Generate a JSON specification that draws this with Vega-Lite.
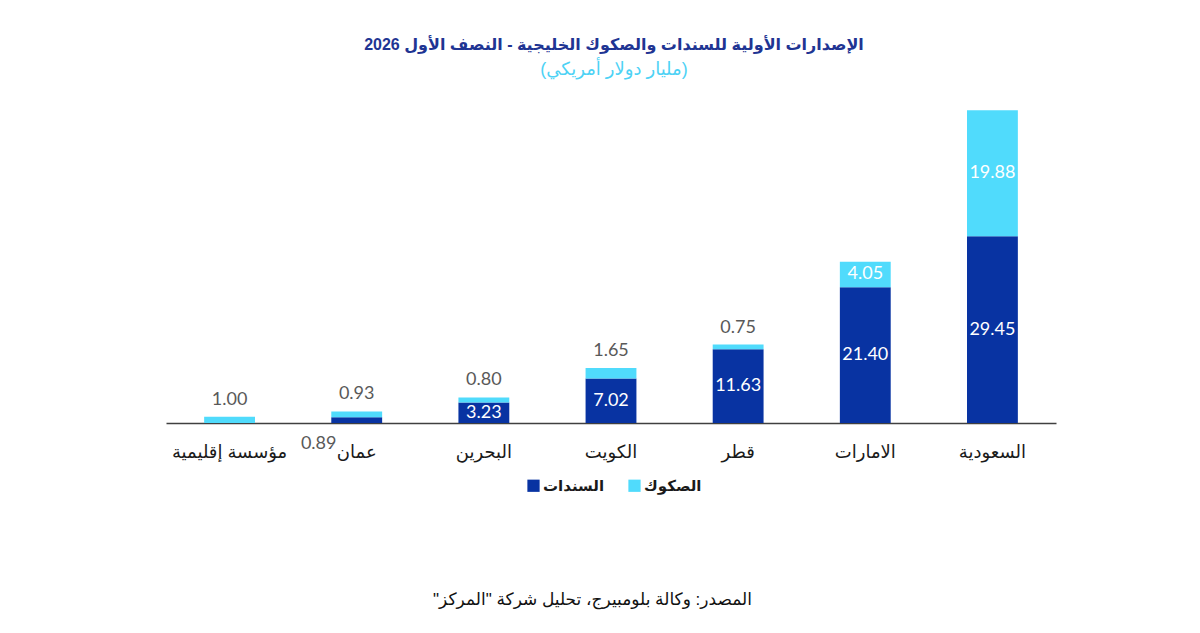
{
  "$schema": "https://vega.github.io/schema/vega-lite/v6.json",
  "autosize": {"type": "none"},
  "width": 890,
  "height": 317,
  "padding": {"left": 166, "top": 106, "right": 144, "bottom": 210},
  "background": "white",
  "title": {
    "text": "الإصدارات الأولية للسندات والصكوك الخليجية - النصف الأول 2026",
    "subtitle": "(مليار دولار أمريكي)",
    "anchor": "middle",
    "dx": 3,
    "font": "Liberation Sans, DejaVu Sans",
    "fontSize": 16,
    "fontWeight": "bold",
    "color": "#1F3593",
    "subtitleFont": "Liberation Sans, DejaVu Sans",
    "subtitleFontSize": 18,
    "subtitleColor": "#4DD2F5",
    "subtitlePadding": 8,
    "offset": 27
  },
  "data": {
    "values": [
      {"country": "السعودية", "type": "السندات", "order": 1, "value": 29.45},
      {"country": "السعودية", "type": "الصكوك", "order": 2, "value": 19.88},
      {"country": "الامارات", "type": "السندات", "order": 1, "value": 21.40},
      {"country": "الامارات", "type": "الصكوك", "order": 2, "value": 4.05},
      {"country": "قطر", "type": "السندات", "order": 1, "value": 11.63},
      {"country": "قطر", "type": "الصكوك", "order": 2, "value": 0.75},
      {"country": "الكويت", "type": "السندات", "order": 1, "value": 7.02},
      {"country": "الكويت", "type": "الصكوك", "order": 2, "value": 1.65},
      {"country": "البحرين", "type": "السندات", "order": 1, "value": 3.23},
      {"country": "البحرين", "type": "الصكوك", "order": 2, "value": 0.80},
      {"country": "عمان", "type": "السندات", "order": 1, "value": 0.89},
      {"country": "عمان", "type": "الصكوك", "order": 2, "value": 0.93},
      {"country": "مؤسسة إقليمية", "type": "الصكوك", "order": 2, "value": 1.00}
    ]
  },
  "transform": [
    {"stack": "value", "groupby": ["country"], "sort": [{"field": "order", "order": "ascending"}], "as": ["v0", "v1"]}
  ],
  "encoding": {
    "x": {
      "field": "country",
      "type": "nominal",
      "sort": ["مؤسسة إقليمية", "عمان", "البحرين", "الكويت", "قطر", "الامارات", "السعودية"],
      "scale": {"paddingInner": 0.6, "paddingOuter": 0.3},
      "axis": {
        "title": "\u200fالمصدر: وكالة بلومبيرج، تحليل شركة \"المركز\"\u200f",
        "titleFont": "Liberation Sans, DejaVu Sans",
        "titleFontSize": 17,
        "titleFontWeight": "normal",
        "titleColor": "#111111",
        "titleX": 426,
        "titleY": 168,
        "titleBaseline": "top",
        "labelAngle": 0,
        "labelFont": "Liberation Sans, DejaVu Sans",
        "labelFontSize": 18,
        "labelColor": "#1a1a1a",
        "labelPadding": 20,
        "ticks": false,
        "domainColor": "#404040",
        "domainWidth": 1.5
      }
    }
  },
  "layer": [
    {
      "mark": {"type": "bar"},
      "encoding": {
        "y": {"field": "v1", "type": "quantitative", "scale": {"domain": [0, 50], "nice": false}, "axis": null},
        "y2": {"field": "v0"},
        "color": {
          "field": "type",
          "type": "nominal",
          "scale": {"domain": ["السندات", "الصكوك"], "range": ["#0833A2", "#50DBFC"]},
          "legend": {
            "title": null,
            "orient": "none",
            "direction": "horizontal",
            "legendX": 360,
            "legendY": 372,
            "symbolType": "square",
            "symbolSize": 150,
            "symbolStrokeWidth": 0,
            "labelFont": "Liberation Sans, DejaVu Sans",
            "labelFontSize": 15,
            "labelFontWeight": "bold",
            "labelColor": "#1a1a1a",
            "columnPadding": 22,
            "labelOffset": 2
          }
        }
      }
    },
    {
      "transform": [
        {"filter": "datum.value >= 3"},
        {"fold": ["v0", "v1"], "as": ["edge", "pos"]}
      ],
      "mark": {"type": "text", "color": "white", "font": "Lato", "fontSize": 18, "baseline": "middle"},
      "encoding": {
        "y": {"aggregate": "mean", "field": "pos", "type": "quantitative"},
        "detail": {"field": "type"},
        "text": {"aggregate": "max", "field": "value", "type": "quantitative", "format": ".2f"}
      }
    },
    {
      "transform": [
        {"filter": "datum.type === 'الصكوك' && datum.value < 3"}
      ],
      "mark": {"type": "text", "color": "#595959", "font": "Lato", "fontSize": 18, "baseline": "middle", "dy": -17},
      "encoding": {
        "y": {"field": "v1", "type": "quantitative"},
        "text": {"field": "value", "type": "quantitative", "format": ".2f"}
      }
    },
    {
      "transform": [
        {"filter": "datum.type === 'السندات' && datum.value < 3"}
      ],
      "mark": {"type": "text", "color": "#595959", "font": "Lato", "fontSize": 18, "baseline": "middle", "dx": -38, "dy": 21},
      "encoding": {
        "y": {"field": "v0", "type": "quantitative"},
        "text": {"field": "value", "type": "quantitative", "format": ".2f"}
      }
    }
  ],
  "config": {"view": {"stroke": null}}
}
